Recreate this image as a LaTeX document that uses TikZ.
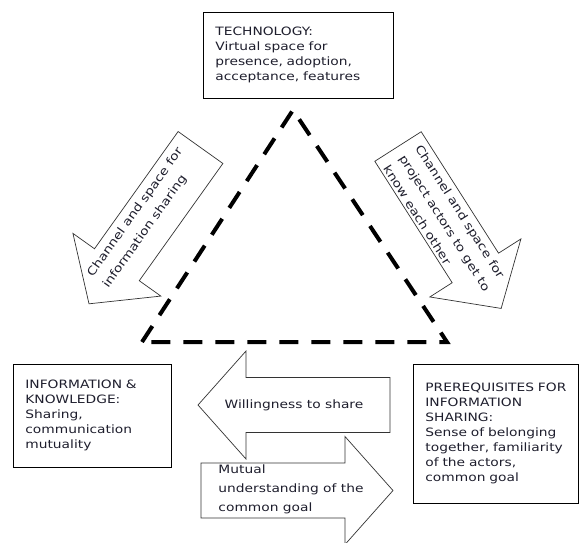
\documentclass[tikz,border=0pt]{standalone}
\usepackage{fontspec}
\setmainfont[FakeStretch=1.2]{DejaVu Sans}
\definecolor{ink}{RGB}{30,30,45}

\tikzset{
box/.style={
draw,
line width=0.8pt,
anchor=north west,
align=left,
inner xsep=12pt,
text=ink,
font=\fontsize{11.5}{15}\selectfont
},
arrowline/.style={
draw=black!80,
line width=0.7pt,
fill=white
},
arrowtext/.style={
align=left,
text=ink,
font=\fontsize{11.5}{19}\selectfont
},
pics/bigarrow/.style={code={
\draw[arrowline] (0,27.5) -- (144,27.5) -- (144,54) -- (192,0)
-- (144,-54) -- (144,-27.5) -- (0,-27.5) -- cycle;
}}
}

\begin{document}
\begin{tikzpicture}[x=1pt,y=1pt]

\useasboundingbox (0,0) rectangle (579,-542);

% the three corners
\coordinate (A) at (293,-110);
\coordinate (B) at (142,-342);
\coordinate (C) at (447,-342);

\draw[line width=4pt, dash pattern=on 19pt off 13pt]
(B) -- (A) -- (C) -- cycle;

\node[box, text width=166pt, minimum height=86pt] (tech) at (203,-12)
{TECHNOLOGY:\\Virtual space for\\presence, adoption,\\acceptance, features};

\node[box, text width=134pt, minimum height=103pt] (info) at (13,-364)
{INFORMATION \&\\KNOWLEDGE:\\Sharing,\\communication\\mutuality};

\node[box, text width=141pt, minimum height=139pt] (prereq) at (413,-364)
{PREREQUISITES~FOR\\INFORMATION\\SHARING:\\Sense of belonging\\together,~familiarity\\of the actors,\\common goal};

% block arrows
\pic[rotate=234.5] at (200.5,-147.5) {bigarrow};
\pic[rotate=-57.5] at (398,-146.5) {bigarrow};
\pic[rotate=180] at (390,-405) {bigarrow};
\pic at (201,-490.5) {bigarrow};

\node[arrowtext, rotate=54.6] (chinfo) at (143,-218)
{Channel and space for\\information sharing};

\node[arrowtext, rotate=-57.5] (chactors) at (445,-223)
{Channel and space for\\project actors to get to\\know each other};

\node[arrowtext] (willing) at (294,-405)
{Willingness to share};

\node[arrowtext] (mutual) at (291,-489)
{Mutual\\understanding of the\\common goal};

\end{tikzpicture}
\end{document}
